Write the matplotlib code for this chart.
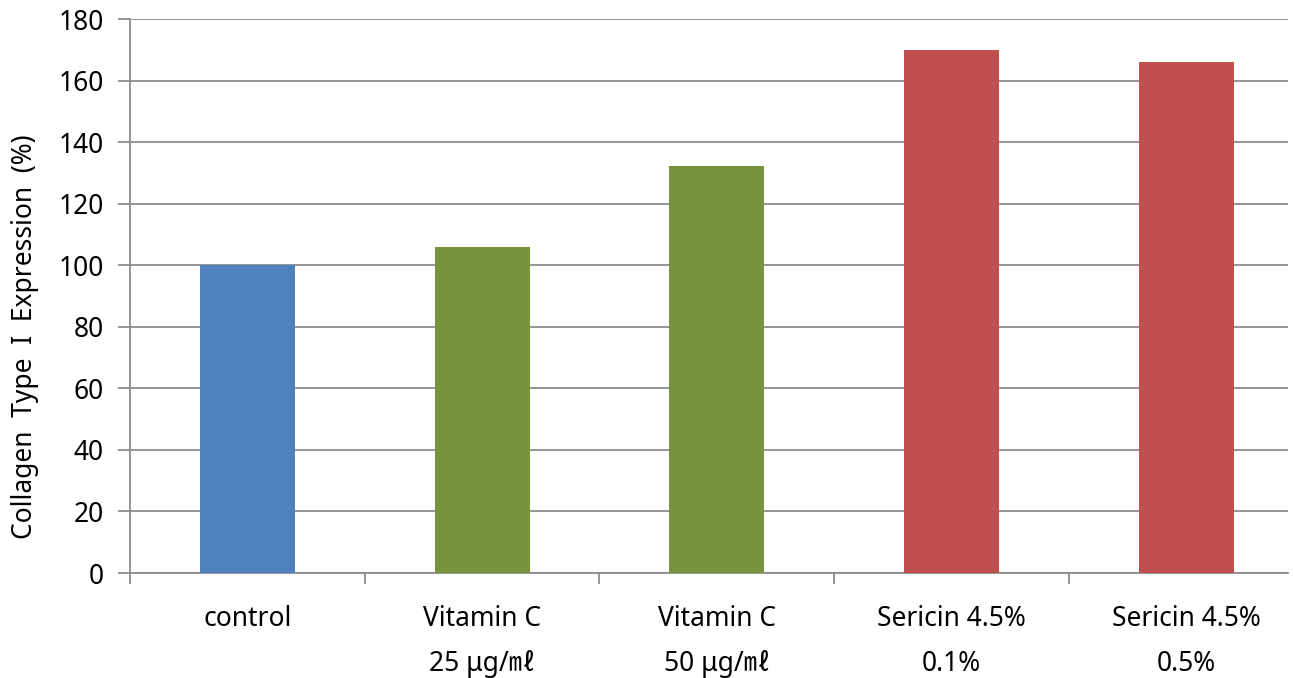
import matplotlib
matplotlib.use('Agg')
import matplotlib.pyplot as plt
import numpy as np

plt.rcParams['font.family'] = ['Noto Sans', 'Noto Sans CJK KR', 'DejaVu Sans']

categories = ['control', 'Vitamin C\n25 μg/㎖', 'Vitamin C\n50 μg/㎖',
              'Sericin 4.5%\n0.1%', 'Sericin 4.5%\n0.5%']
values = [100, 106, 132.3, 170, 166]
colors = ['#4F81BD', '#77933C', '#77933C', '#C0504D', '#C0504D']
y_ticks = list(range(0, 181, 20))

grey = '#8C8C8C'

fig = plt.figure(figsize=(12.93, 6.78), dpi=100)
ax = fig.add_axes([130 / 1293, 1 - 573 / 678, 1158 / 1293, 554 / 678])

x = np.arange(len(categories))
ax.bar(x, values, width=0.405, color=colors, zorder=3)

ax.set_xlim(-0.5, 4.434)
ax.set_ylim(0, 180)
ax.set_yticks(y_ticks)
ax.yaxis.grid(True, color=grey, linewidth=1.3, zorder=0)

ax.set_xticks(x)
ax.set_xticklabels(categories, fontsize=19, linespacing=1.8, va='top')
ax.set_xticks(np.arange(-0.5, len(categories) - 0.5, 1), minor=True)
ax.tick_params(axis='x', which='major', length=0, pad=23)
ax.tick_params(axis='x', which='minor', length=8, width=1.3, color=grey, direction='out')
ax.tick_params(axis='y', length=9, width=1.3, color=grey, labelsize=19, pad=10)

for s in ['top', 'right']:
    ax.spines[s].set_visible(False)
for s in ['left', 'bottom']:
    ax.spines[s].set_color(grey)
    ax.spines[s].set_linewidth(1.3)

ax.set_ylabel('Collagen  Type  I  Expression  (%)', fontsize=19)
ax.yaxis.set_label_coords(-0.079, 0.426)

fig.savefig('out.png', dpi=100)
